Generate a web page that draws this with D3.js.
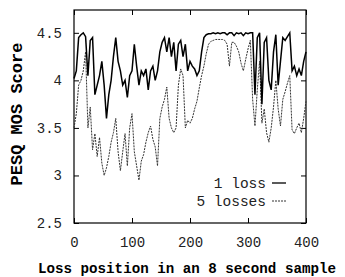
<!DOCTYPE html>
<html>
<head>
<meta charset="utf-8">
<script src="https://cdn.jsdelivr.net/npm/d3@7"></script>
<style>
	body { margin: 0; background: #fff; }
	text { font-family: "Liberation Mono", "DejaVu Sans Mono", monospace; }
</style>
</head>
<body>
<svg id="chart" width="345" height="277"></svg>
<script>
	/**
	 * Data (loss position step of 4)
	 */
	let positions = d3.range(0, 401, 4);

	let oneLoss = [
		4.02, 4.1, 4.45, 4.48, 4.5, 4.46, 4.05, 4.42, 4.45, 3.85,
		3.95, 4.05, 4.2, 3.95, 3.6, 3.85, 4.0, 4.25, 4.45, 4.2,
		4.1, 3.95, 4.0, 3.82, 4.05, 4.1, 4.38, 4.15, 3.95, 4.1,
		4.05, 4.12, 3.9, 4.1, 4.15, 4.0, 4.1, 4.3, 4.4, 4.45,
		4.3, 4.45, 4.25, 4.4, 4.1, 4.38, 4.42, 4.25, 4.38, 4.1,
		4.2, 4.15, 4.12, 4.05, 4.1, 4.3, 4.45, 4.48, 4.49, 4.49,
		4.5, 4.49, 4.5, 4.49, 4.5, 4.5, 4.48, 4.5, 4.5, 4.47,
		4.5, 4.49, 4.5, 4.47, 4.5, 4.49, 4.5, 4.5, 3.85, 4.45,
		4.5, 3.75, 4.4, 4.45, 4.0, 3.9, 4.3, 4.48, 3.95, 4.2,
		4.45, 4.42, 4.46, 4.5, 4.1, 4.15, 4.05, 4.12, 4.05, 4.2,
		4.3
	];

	let fiveLosses = [
		3.5, 3.65, 3.95, 4.0, 4.1, 4.3, 3.5, 3.72, 3.27, 3.44,
		3.2, 3.4, 3.13, 3.0, 3.08, 3.2, 3.35, 3.45, 3.6, 3.25,
		3.05, 3.25, 3.44, 3.1, 3.5, 3.65, 3.25, 3.1, 2.95, 3.15,
		3.22, 3.35, 3.45, 3.52, 3.38, 3.3, 3.1, 3.6, 3.72, 3.8,
		3.93, 3.6, 3.5, 3.45, 3.5, 3.95, 4.12, 4.05, 3.5, 3.58,
		3.55, 3.6, 3.7, 3.78, 3.92, 4.05, 4.15, 4.28, 4.38, 4.41,
		4.42, 4.43, 4.43, 4.43, 4.43, 4.42, 4.38, 4.15, 4.4, 4.4,
		4.36, 4.3, 4.18, 4.1, 4.22, 4.33, 4.42, 3.8, 3.52, 3.9,
		4.2, 3.55, 3.7, 3.45, 3.35, 3.5, 3.72, 4.0, 3.7, 3.52,
		3.8, 3.88, 3.97, 4.05, 3.48, 3.44, 3.5, 3.55, 3.45, 3.6,
		3.78
	];

	let xTicks = [0, 100, 200, 300, 400];
	let yTicks = [2.5, 3, 3.5, 4, 4.5];
	let seriesNames = ["1 loss", "5 losses"];

	/**
	 * Dimensions
	 */
	let svg = d3.select("#chart");
	let margin = { top: 10, right: 39, bottom: 54, left: 74 };
	let width = 345;
	let height = 277;
	let chartW = width - margin.left - margin.right;
	let chartH = height - margin.top - margin.bottom;

	let xScale = d3.scaleLinear().domain([0, 400]).range([0, chartW]);
	let yScale = d3.scaleLinear().domain([2.5, 4.74]).range([chartH, 0]);

	let chart = svg.append("g").attr("transform", "translate(" + margin.left + "," + margin.top + ")");

	// Axes, ticks point inward like gnuplot
	let fmt = function(d) { return String(d); };

	let bottomAxis = d3.axisBottom(xScale).tickValues(xTicks).tickSize(-5).tickPadding(14).tickFormat(fmt);
	let topAxis = d3.axisTop(xScale).tickValues(xTicks).tickSize(-5).tickFormat("");
	let leftAxis = d3.axisLeft(yScale).tickValues(yTicks).tickSize(-5).tickPadding(12).tickFormat(fmt);
	let rightAxis = d3.axisRight(yScale).tickValues(yTicks).tickSize(-5).tickFormat("");

	chart.append("g").attr("transform", "translate(0," + chartH + ")").call(bottomAxis);
	chart.append("g").call(topAxis);
	chart.append("g").call(leftAxis);
	chart.append("g").attr("transform", "translate(" + chartW + ",0)").call(rightAxis);

	chart.selectAll(".domain").remove();
	chart.selectAll(".tick line").attr("stroke", "#000").attr("stroke-width", 1);
	chart.selectAll(".tick text").attr("fill", "#222").style("font-size", "14px").style("font-family", "'Liberation Mono', monospace");

	// Frame
	chart.append("rect")
		.attr("x", 0).attr("y", 0)
		.attr("width", chartW).attr("height", chartH)
		.attr("fill", "none").attr("stroke", "#000").attr("stroke-width", 1.2);

	// Lines
	let line = d3.line()
		.x(function(d, i) { return xScale(positions[i]); })
		.y(function(d) { return yScale(d); });

	chart.append("path")
		.datum(fiveLosses)
		.attr("d", line)
		.attr("fill", "none")
		.attr("stroke", "#333")
		.attr("stroke-width", 1)
		.attr("stroke-dasharray", "2,1");

	chart.append("path")
		.datum(oneLoss)
		.attr("d", line)
		.attr("fill", "none")
		.attr("stroke", "#000")
		.attr("stroke-width", 1.5);

	// Legend
	let legend = chart.append("g").attr("transform", "translate(" + (chartW - 40) + "," + (chartH - 40) + ")");
	seriesNames.forEach(function(name, i) {
		let row = legend.append("g").attr("transform", "translate(0," + (i * 18) + ")");
		row.append("text")
			.attr("x", 0).attr("y", 5)
			.attr("text-anchor", "end")
			.attr("fill", "#222")
			.style("font-size", "14.5px")
			.text(name);
		row.append("line")
			.attr("x1", 6).attr("x2", 20)
			.attr("y1", 0).attr("y2", 0)
			.attr("stroke", i === 0 ? "#000" : "#333")
			.attr("stroke-width", i === 0 ? 1.3 : 1)
			.attr("stroke-dasharray", i === 0 ? null : "2,1");
	});

	// Axis titles
	svg.append("text")
		.attr("x", 187).attr("y", 273)
		.attr("text-anchor", "middle")
		.style("font-size", "14.2px")
		.style("font-weight", "bold")
		.text("Loss position in an 8 second sample");

	svg.append("text")
		.attr("transform", "translate(22,114) rotate(-90)")
		.attr("text-anchor", "middle")
		.style("font-size", "17px")
		.style("font-weight", "bold")
		.text("PESQ MOS Score");
</script>
</body>
</html>
